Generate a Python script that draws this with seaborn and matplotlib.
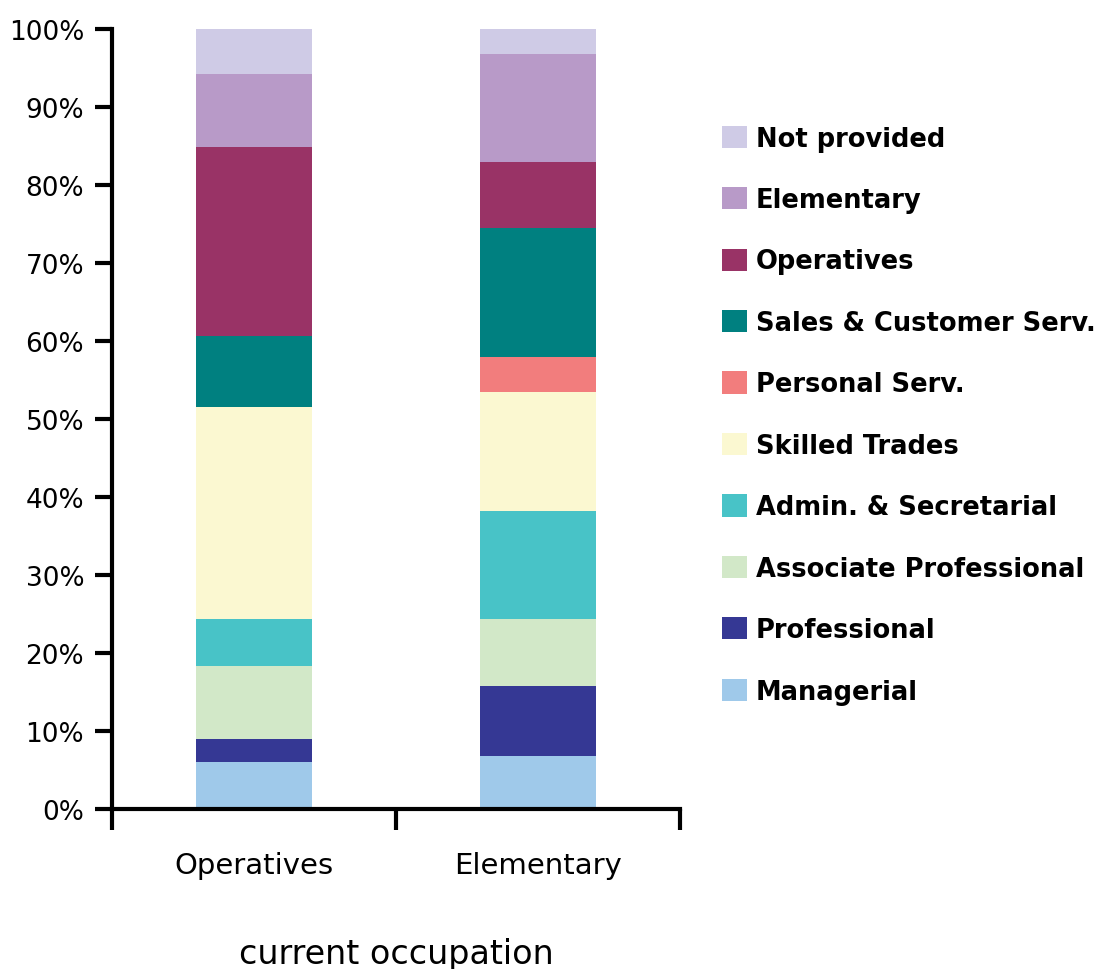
import numpy as np
import pandas as pd
import matplotlib
matplotlib.use("Agg")
import matplotlib.pyplot as plt
import seaborn as sns
from matplotlib.patches import Patch

# =========================================================
# DATA
# =========================================================

GROUPS = ["Operatives", "Elementary"]
CATEGORIES = ["Managerial", "Professional", "Associate Professional",
              "Admin. & Secretarial", "Skilled Trades", "Personal Serv.",
              "Sales & Customer Serv.", "Operatives", "Elementary", "Not provided"]
OPERATIVES = [6.0, 3.0, 9.3, 6.1, 27.1, 0.0, 9.1, 24.3, 9.3, 5.8]
ELEMENTARY = [6.8, 9.0, 8.6, 13.8, 15.3, 4.4, 16.6, 8.4, 13.9, 3.2]
COLORS = ["#9fc9ea", "#353894", "#d2e8c8", "#48c3c7", "#fbf8d1",
          "#f27d7d", "#008080", "#993366", "#b89ac8", "#cfcbe6"]
Y_TICKS = [0, 10, 20, 30, 40, 50, 60, 70, 80, 90, 100]

df = pd.DataFrame({"group": np.repeat(GROUPS, len(CATEGORIES)),
                   "category": CATEGORIES * 2,
                   "value": OPERATIVES + ELEMENTARY})

# =========================================================
# PLOT
# =========================================================

sns.set_style("white")
plt.rcParams["font.family"] = ["DejaVu Sans"]
plt.rcParams["text.color"] = "black"
plt.rcParams["xtick.color"] = "black"
plt.rcParams["ytick.color"] = "black"
plt.rcParams["axes.labelcolor"] = "black"

fig = plt.figure(figsize=(11.2, 9.7), dpi=100)
ax = fig.add_axes([0.1, 0.165, 0.507, 0.804])

bottom = np.zeros(len(GROUPS))
for cat, col in zip(CATEGORIES, COLORS):
    sub = df[df["category"] == cat]
    vals = sub["value"].to_numpy()
    sns.barplot(data=sub, x="group", y="value", order=GROUPS, color=col,
                saturation=1, width=0.41, bottom=bottom, ax=ax,
                linewidth=0, errorbar=None)
    bottom = bottom + vals

ax.set_xlim(-0.5, 1.5)
ax.set_ylim(0, 100)
ax.set_yticks(Y_TICKS)
ax.set_yticklabels([f"{t}%" for t in Y_TICKS], fontsize=19)
ax.set_xticks([0, 1])
ax.set_xticklabels(GROUPS, fontsize=21)
ax.tick_params(axis="x", which="major", length=0, pad=30)
ax.tick_params(axis="y", left=True, length=12, width=3, direction="out", pad=8)
ax.set_xticks([-0.5, 0.5, 1.5], minor=True)
ax.tick_params(axis="x", which="minor", bottom=True, length=15, width=3,
               direction="out")
for s in ["top", "right"]:
    ax.spines[s].set_visible(False)
for s in ["left", "bottom"]:
    ax.spines[s].set_linewidth(3)
    ax.spines[s].set_color("black")
ax.set_xlabel("current occupation", fontsize=24, labelpad=42)
ax.set_ylabel("")

handles = [Patch(facecolor=c, edgecolor="none") for c in COLORS][::-1]
labels = CATEGORIES[::-1]
fig.legend(handles, labels, loc="center left", bbox_to_anchor=(0.645, 0.571),
           frameon=False, prop={"size": 18.5, "weight": "bold"},
           handlelength=0.95, handleheight=0.95, handletextpad=0.35,
           labelspacing=1.38, borderpad=0, borderaxespad=0)

fig.savefig("out.png", dpi=100)
